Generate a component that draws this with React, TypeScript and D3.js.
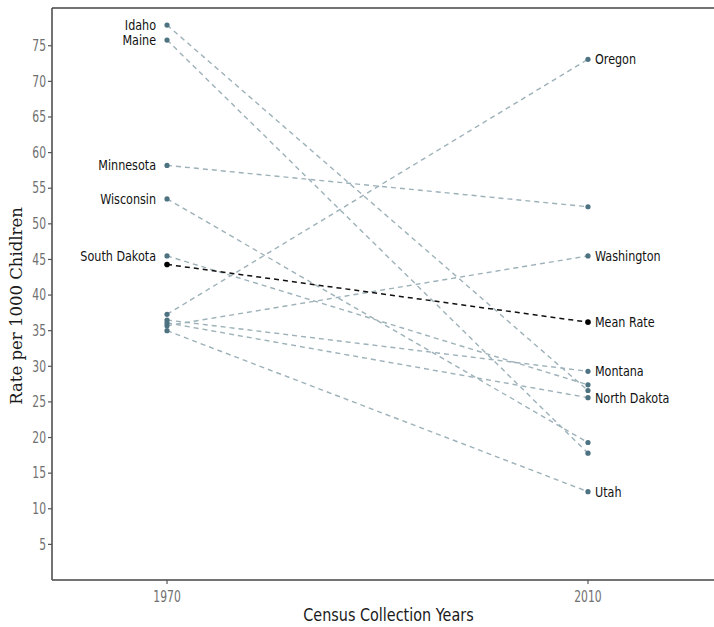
import React, { useEffect } from "react";
import * as d3 from "d3";

const states = ["Idaho", "Maine", "Minnesota", "Wisconsin", "South Dakota", "Oregon", "Washington", "Montana", "North Dakota", "Utah"];
const rate1970 = [77.9, 75.8, 58.2, 53.5, 45.5, 37.3, 35.7, 36.5, 36.1, 35.0];
const rate2010 = [26.6, 17.8, 52.4, 19.3, 27.4, 73.1, 45.5, 29.3, 25.6, 12.4];
const labelSide = ["1970", "1970", "1970", "1970", "1970", "2010", "2010", "2010", "2010", "2010"];
const meanLabel = "Mean Rate";
const meanRate = [44.3, 36.2];
const years = [1970, 2010];
const yTicks = [5, 10, 15, 20, 25, 30, 35, 40, 45, 50, 55, 60, 65, 70, 75];

const W = 714, H = 627;
const L = 52, R = 713, T = 8, B = 580;
const x = d3.scaleLinear().domain([1959.07, 2021.88]).range([L, R]);
const y = d3.scaleLinear().domain([0, 80.3]).range([B, T]);

const sans = "'DejaVu Sans', 'Noto Sans', sans-serif";
const lineColor = "#9db1b9";
const pointColor = "#4d7281";

function CText(props: { x: number; y: number; anchor?: string; size: number; fill: string; sx?: number; weight?: number; children: React.ReactNode }) {
  const sx = props.sx ?? 0.8;
  return (
    <text transform={`translate(${props.x},${props.y}) scale(${sx},1)`} dy="0.35em"
      textAnchor={props.anchor || "start"} fontFamily={sans} fontSize={props.size}
      fontWeight={props.weight || 400} fill={props.fill}>{props.children}</text>
  );
}

export default function App() {
  useEffect(() => {
    document.body.style.margin = "0";
  }, []);
  const line = d3.line<[number, number]>().x((d) => x(d[0])).y((d) => y(d[1]));
  return (
    <svg width={W} height={H} style={{ display: "block", background: "#fff" }}>
      {states.map((s, i) => (
        <path key={"l" + s} d={line([[years[0], rate1970[i]], [years[1], rate2010[i]]]) || ""}
          fill="none" stroke={lineColor} strokeWidth={1.4} strokeDasharray="5,4" />
      ))}
      <path d={line([[years[0], meanRate[0]], [years[1], meanRate[1]]]) || ""} fill="none" stroke="#111" strokeWidth={1.5} strokeDasharray="5,4" />
      {states.map((s, i) => (
        <g key={"p" + s}>
          <circle cx={x(years[0])} cy={y(rate1970[i])} r={2.6} fill={pointColor} />
          <circle cx={x(years[1])} cy={y(rate2010[i])} r={2.6} fill={pointColor} />
        </g>
      ))}
      {meanRate.map((v, i) => (
        <circle key={"m" + i} cx={x(years[i])} cy={y(v)} r={2.8} fill="#000" />
      ))}
      {states.map((s, i) => {
        const left = labelSide[i] === "1970";
        return (
          <CText key={"t" + s}
            x={left ? x(years[0]) - 11 : x(years[1]) + 7}
            y={y(left ? rate1970[i] : rate2010[i])}
            anchor={left ? "end" : "start"} size={14} fill="#111">{s}</CText>
        );
      })}
      <CText x={x(years[1]) + 7} y={y(meanRate[1])} size={14} fill="#111">{meanLabel}</CText>
      <line x1={L} x2={R + 1} y1={T} y2={T} stroke="#444" strokeWidth={1.3} />
      <line x1={L} x2={L} y1={T} y2={B} stroke="#444" strokeWidth={1.5} />
      <line x1={L} x2={R + 1} y1={B} y2={B} stroke="#444" strokeWidth={1.5} />
      {yTicks.map((t) => (
        <g key={"yt" + t}>
          <line x1={L - 4} x2={L} y1={y(t)} y2={y(t)} stroke="#555" strokeWidth={1.2} />
          <CText x={L - 6} y={y(t)} anchor="end" size={15} sx={0.72} fill="#707070">{t}</CText>
        </g>
      ))}
      {years.map((t) => (
        <g key={"xt" + t}>
          <line x1={x(t)} x2={x(t)} y1={B} y2={B + 4} stroke="#555" strokeWidth={1.2} />
          <CText x={x(t)} y={B + 17} anchor="middle" size={15} sx={0.72} fill="#707070">{t}</CText>
        </g>
      ))}
      <CText x={(L + R) / 2 + 6} y={615} anchor="middle" size={18} sx={0.8} fill="#1a1a1a">Census Collection Years</CText>
      <text transform={`translate(22, ${(T + B) / 2 + 12}) rotate(-90)`} textAnchor="middle" fontFamily="'DejaVu Serif', 'Liberation Serif', serif" fontSize={16.5} fill="#1a1a1a">Rate per 1000 Chidlren</text>
    </svg>
  );
}
